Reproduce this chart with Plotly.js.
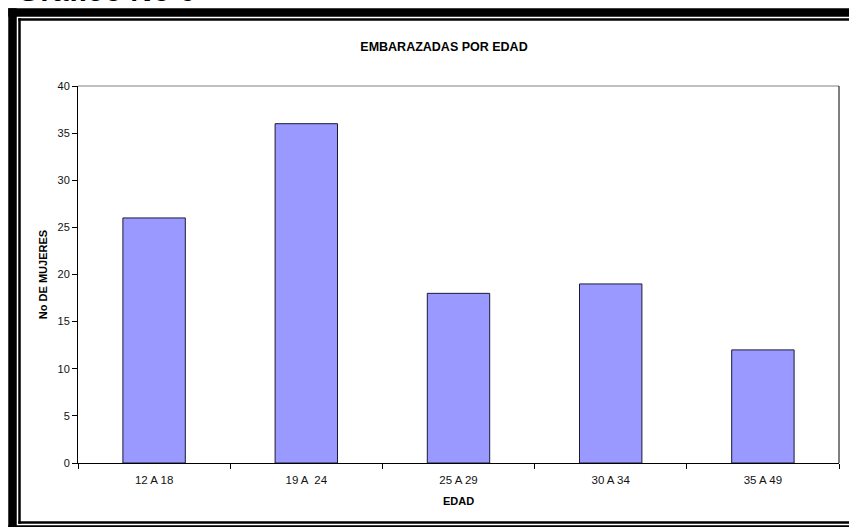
<!DOCTYPE html>
<html>
<head>
<meta charset="utf-8">
<script src="https://cdn.plot.ly/plotly-3.0.1.min.js"></script>
<style>
  html, body { margin: 0; padding: 0; background: #ffffff; overflow: hidden; }
  #chart { width: 849px; height: 527px; }
</style>
</head>
<body>
<div id="chart"></div>
<script>
// ---- data ----
const categories = ["12 A 18", "19 A  24", "25 A 29", "30 A 34", "35 A 49"];
const mujeres = [26, 36, 18, 19, 12];
const yTickValues = [0, 5, 10, 15, 20, 25, 30, 35, 40];

const chartTitle = "EMBARAZADAS POR EDAD";
const xTitle = "EDAD";
const yTitle = "No DE MUJERES";
const pageHeading = "Gráfico No 6";

// ---- layout geometry (pixels) ----
const W = 849, H = 527;
const L = 78, R = 839, T = 86, B = 463;
const fx = px => (px - L) / (R - L);
const fy = py => (B - py) / (B - T);

const font = "Arial, 'Liberation Sans', Helvetica, sans-serif";

const trace = {
  type: "bar",
  x: categories,
  y: mujeres,
  marker: { color: "#9999FF", line: { color: "#1a1a33", width: 1 } },
  hoverinfo: "x+y"
};

function hline(py, x0, x1, w) {
  return { type: "line", xref: "paper", yref: "paper", x0: fx(x0), x1: fx(x1), y0: fy(py), y1: fy(py),
           line: { color: "#000000", width: w } };
}
function vline(px, y0, y1, w) {
  return { type: "line", xref: "paper", yref: "paper", x0: fx(px), x1: fx(px), y0: fy(y0), y1: fy(y1),
           line: { color: "#000000", width: w } };
}

const layout = {
  width: W, height: H,
  margin: { l: L, r: W - R, t: T, b: H - B, pad: 0 },
  paper_bgcolor: "#ffffff",
  plot_bgcolor: "#ffffff",
  showlegend: false,
  bargap: 0.59,
  font: { family: font, color: "#000000", size: 10 },
  title: {
    text: chartTitle,
    font: { family: font, size: 12.5, color: "#000000", weight: "bold" },
    x: fx(444), xref: "paper", xanchor: "center",
    y: 1 - 47 / H, yref: "container", yanchor: "middle"
  },
  xaxis: {
    type: "category",
    showline: true, linecolor: "#000000", linewidth: 1,
    ticks: "outside", tickson: "boundaries", ticklen: 5, tickcolor: "#000000", tickwidth: 1,
    ticklabelstandoff: 6,
    tickfont: { family: font, size: 11.5, color: "#111111" },
    showgrid: false, zeroline: false,
    title: { text: xTitle, font: { family: font, size: 11, color: "#000000", weight: "bold" }, standoff: 12 }
  },
  yaxis: {
    range: [0, 40], tickvals: yTickValues,
    showline: true, linecolor: "#000000", linewidth: 1,
    ticks: "outside", ticklen: 5, tickcolor: "#000000", tickwidth: 1,
    tickfont: { family: font, size: 11, color: "#111111" },
    showgrid: false, zeroline: false,
    title: { text: yTitle, font: { family: font, size: 11, color: "#000000", weight: "bold" }, standoff: 7 }
  },
  shapes: [
    // plot area border (top and right)
    { type: "line", xref: "paper", yref: "paper", x0: 0, x1: 1, y0: 1, y1: 1, line: { color: "#808080", width: 1 } },
    { type: "line", xref: "paper", yref: "paper", x0: 1, x1: 1, y0: 0, y1: 1, line: { color: "#000000", width: 1 } },
    // outer thick frame (top, left, bottom; its right side lies beyond the page)
    hline(12.5, 8.25, 849, 8.5),
    vline(12.5, 8.25, 527, 8.5),
    hline(529.5, 8.25, 849, 8.5),
    // inner thin frame
    hline(19.5, 18.25, 849, 2.5),
    vline(19.5, 18.25, 523.75, 2.5),
    hline(522.5, 18.25, 849, 2.5)
  ],
  annotations: [
    { text: pageHeading, xref: "paper", yref: "paper", x: fx(15), xanchor: "left",
      y: fy(-10), yanchor: "middle", showarrow: false,
      font: { family: font, size: 30, color: "#000000", weight: "bold" } }
  ]
};

Plotly.newPlot("chart", [trace], layout, { staticPlot: true, displayModeBar: false });
</script>
</body>
</html>
